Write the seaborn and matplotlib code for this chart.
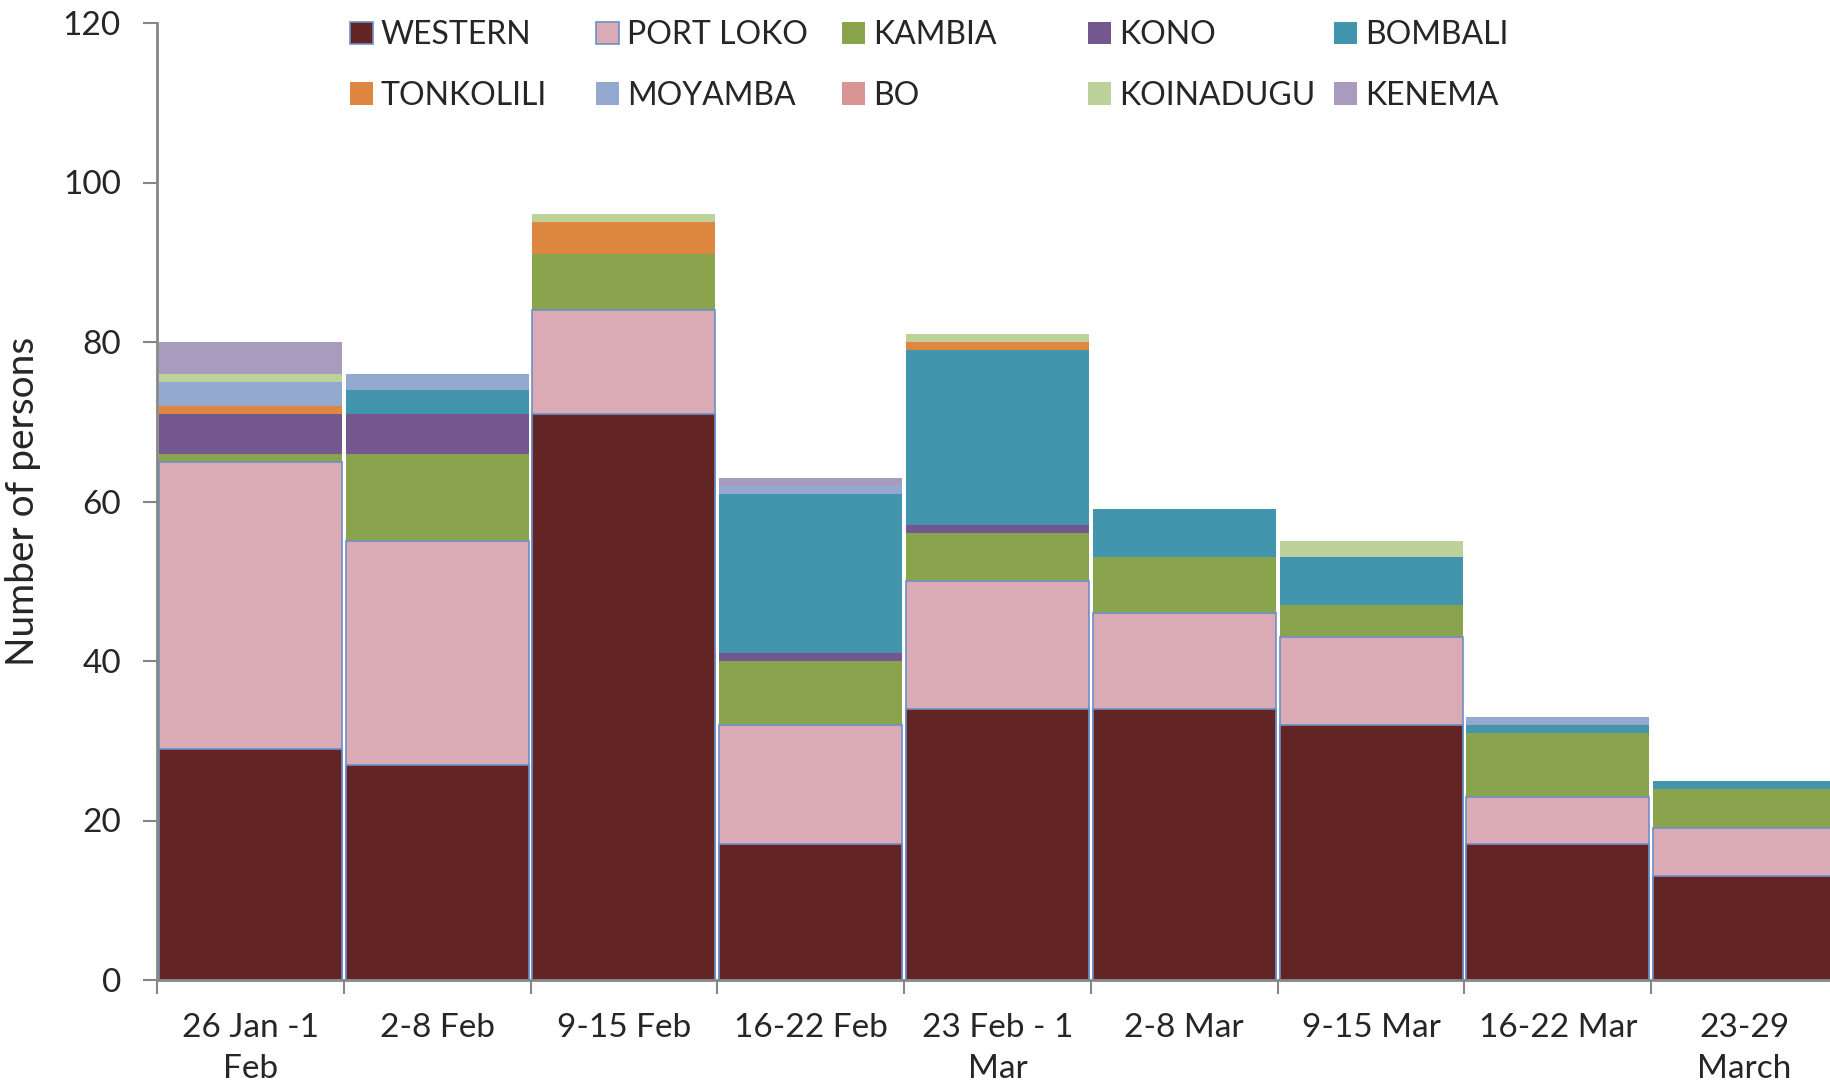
import numpy as np
import pandas as pd
import matplotlib
matplotlib.use("Agg")
import matplotlib.pyplot as plt
from matplotlib.patches import Patch
import seaborn as sns

# Weekly counts by district
weeks = ["26 Jan -1\nFeb", "2-8 Feb", "9-15 Feb", "16-22 Feb", "23 Feb - 1\nMar",
         "2-8 Mar", "9-15 Mar", "16-22 Mar", "23-29\nMarch"]
western   = [29, 27, 71, 17, 34, 34, 32, 17, 13]
port_loko = [36, 28, 13, 15, 16, 12, 11, 6, 6]
kambia    = [1, 11, 7, 8, 6, 7, 4, 8, 5]
kono      = [5, 5, 0, 1, 1, 0, 0, 0, 0]
bombali   = [0, 3, 0, 20, 22, 6, 6, 1, 1]
tonkolili = [1, 0, 4, 0, 1, 0, 0, 0, 0]
moyamba   = [3, 2, 0, 1, 0, 0, 0, 1, 0]
bo        = [0, 0, 0, 0, 0, 0, 0, 0, 0]
koinadugu = [1, 0, 1, 0, 1, 0, 2, 0, 0]
kenema    = [4, 0, 0, 1, 0, 0, 0, 0, 0]

districts = ["WESTERN", "PORT LOKO", "KAMBIA", "KONO", "BOMBALI",
             "TONKOLILI", "MOYAMBA", "BO", "KOINADUGU", "KENEMA"]
colors = ["#632523", "#dbabb5", "#8aa44d", "#74578f", "#4394ad",
          "#dd8741", "#93a9d0", "#d89593", "#bdd29b", "#a99bbd"]
edge_blue = "#6d8fc7"

df = pd.DataFrame(
    [western, port_loko, kambia, kono, bombali,
     tonkolili, moyamba, bo, koinadugu, kenema],
    index=districts, columns=weeks).T
cum = df.cumsum(axis=1)

sns.set_style("white")
plt.rcParams["font.family"] = ["Lato", "DejaVu Sans"]

fig = plt.figure(figsize=(18.31, 10.90), dpi=100)
ax = fig.add_axes([157 / 1831, 110 / 1090, (1838 - 157) / 1831, 957 / 1090])

# draw the stack from the top layer down so each layer covers the one above
for i in range(len(districts) - 1, -1, -1):
    name = districts[i]
    edged = name in ("WESTERN", "PORT LOKO")
    sns.barplot(x=weeks, y=cum[name].values, color=colors[i], saturation=1,
                width=0.98, errorbar=None, ax=ax,
                edgecolor=edge_blue if edged else "none",
                linewidth=1.2 if edged else 0)

ax.set_xlim(-0.5, 8.5)
ax.set_ylim(0, 120)
ax.set_yticks(range(0, 121, 20))
ax.set_ylabel("Number of persons", fontsize=28, labelpad=16)
ax.tick_params(axis="y", labelsize=24, length=10, width=1.5, color="#868686",
               direction="out", left=True, pad=16)
ax.tick_params(axis="x", which="major", labelsize=24, length=0, pad=24)
ax.set_xticks(np.arange(-0.5, 9, 1), minor=True)
ax.tick_params(axis="x", which="minor", length=10, width=1.5, color="#868686",
               direction="out", bottom=True)
for lab in ax.get_xticklabels():
    lab.set_linespacing(1.45)

sns.despine(ax=ax)
for side in ("left", "bottom"):
    ax.spines[side].set_color("#868686")
    ax.spines[side].set_linewidth(2)

# legend: five evenly spaced columns, two rows
handles = []
for name, c in zip(districts, colors):
    edged = name in ("WESTERN", "PORT LOKO")
    handles.append(Patch(facecolor=c, edgecolor=edge_blue if edged else c,
                         linewidth=1.2 if edged else 0, label=name))
col_x = [344, 590, 836, 1082, 1328]
for k in range(5):
    pair = [handles[k], handles[k + 5]]
    fig.legend(handles=pair, labels=[h.get_label() for h in pair],
               loc="upper left", bbox_to_anchor=(col_x[k] / 1831, 1 - 14 / 1090),
               frameon=False, fontsize=23, handlelength=0.7, handleheight=0.7,
               handletextpad=0.25, labelspacing=0.95, borderaxespad=0,
               borderpad=0.2)

fig.savefig("out.png", dpi=100)
